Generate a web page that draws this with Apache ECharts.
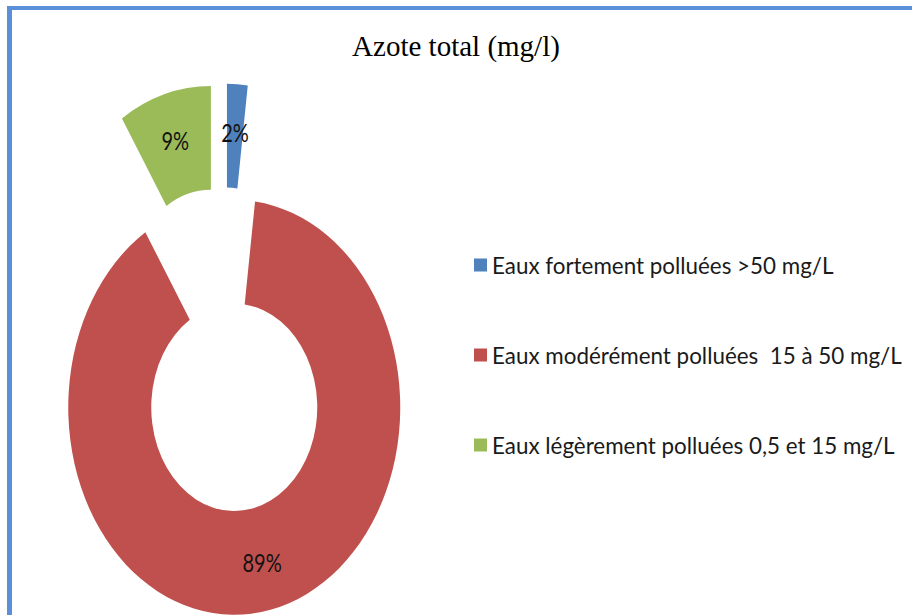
<!DOCTYPE html>
<html>
<head>
<meta charset="utf-8">
<script src="https://cdn.jsdelivr.net/npm/echarts@6/dist/echarts.min.js"></script>
<style>
    html, body { margin: 0; padding: 0; background: #fff; overflow: hidden; }
    #frame { position: absolute; left: 7px; top: 6px; width: 920px; height: 620px;
             border-left: 5px solid #5b8fd9; border-top: 4px solid #5b8fd9; }
    #main { position: absolute; left: 0; top: 0; width: 912px; height: 615px; }
    /* the doughnut in the source picture is stretched vertically */
    #ring { position: absolute; left: 0; top: 0; width: 912px; height: 492px;
            transform: scale(1, 1.25); transform-origin: 0 0; }
</style>
</head>
<body>
<div id="frame"></div>
<div id="main"></div>
<div id="ring"></div>
<script>
    var titre = 'Azote total (mg/l)';
    var categories = ['Eaux fortement polluées >50 mg/L',
                      'Eaux modérément polluées  15 à 50 mg/L',
                      'Eaux légèrement polluées 0,5 et 15 mg/L'];
    var valeurs = [2, 89, 9];
    var couleurs = ['#4f81bd', '#c0504d', '#9bbb59'];

    var donnees = categories.map(function (c, i) {
        return { name: c, value: valeurs[i], selected: true };
    });

    // titre + legende (pas etire)
    var option = {
        color: couleurs,
        animation: false,
        title: {
            text: titre,
            left: 'center',
            top: 26,
            textStyle: { fontFamily: 'Liberation Serif', fontWeight: 'normal', fontSize: 29, color: '#000' }
        },
        legend: {
            orient: 'vertical',
            left: 474,
            top: 250,
            padding: 0,
            itemGap: 60,
            itemWidth: 13,
            itemHeight: 13,
            icon: 'rect',
            selectedMode: false,
            data: categories,
            textStyle: { fontFamily: 'Lato', fontSize: 22.4, color: '#1a1a1a', lineHeight: 30, padding: [0, 0, 0, 0] }
        },
        series: [{
            type: 'pie',
            radius: [0, 0],
            center: [-100, -100],
            silent: true,
            label: { show: false },
            data: categories.map(function (c, i) { return { name: c, value: valeurs[i] }; })
        }]
    };
    echarts.init(document.getElementById('main'), null, { renderer: 'svg' }).setOption(option);

    // anneau eclate
    var option2 = {
        color: couleurs,
        animation: false,
        series: [{
            type: 'pie',
            center: [224, 280],
            radius: [83, 166],
            startAngle: 90,
            clockwise: true,
            selectedMode: 'multiple',
            selectedOffset: 47,
            silent: true,
            emphasis: { disabled: true, scale: false },
            label: {
                show: true,
                position: 'inside',
                formatter: '{d}%',
                fontFamily: 'Lato',
                fontSize: 20,
                color: '#111'
            },
            labelLine: { show: false },
            data: donnees
        }]
    };
    echarts.init(document.getElementById('ring'), null, { renderer: 'svg' }).setOption(option2);
</script>
</body>
</html>
